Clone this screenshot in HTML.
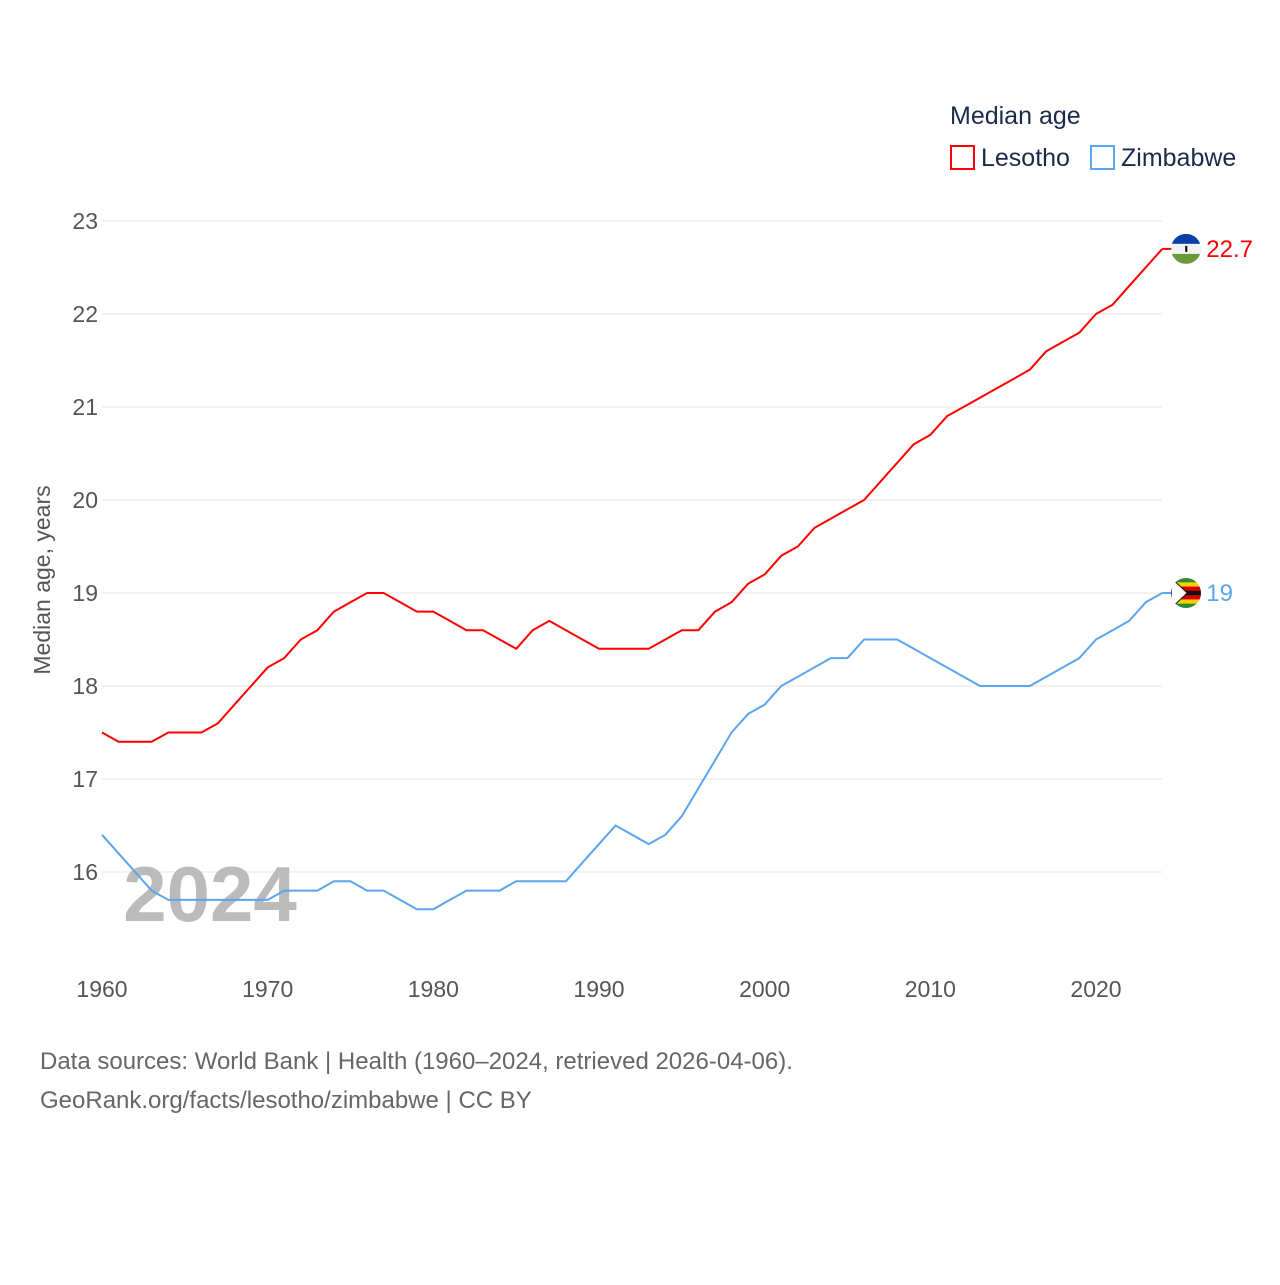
<!DOCTYPE html>
<html><head><meta charset="utf-8"><style>
body{margin:0;background:#fff;}
svg text{font-family:"Liberation Sans",sans-serif;}
</style></head><body>
<svg width="1280" height="1280" viewBox="0 0 1280 1280" xmlns="http://www.w3.org/2000/svg" id="chart">
<defs>
<clipPath id="clipL"><circle cx="1186" cy="248.1" r="15"/></clipPath>
<clipPath id="clipZ"><circle cx="1186" cy="592" r="15"/></clipPath>
</defs>
<g id="grid"></g>
<g id="yticks"></g>
<g id="xticks"></g>
<text x="210" y="921" font-size="78" font-weight="bold" fill="#bbb" text-anchor="middle">2024</text>
<g id="series"></g>
<text transform="translate(50,580) rotate(-90)" font-size="23" fill="#555" text-anchor="middle">Median age, years</text>
<text x="950" y="124" font-size="25" fill="#1a2b4a">Median age</text>
<g><rect x="951" y="146" width="23" height="23" fill="none" stroke="#f00" stroke-width="2"/><text x="981" y="166" font-size="25" fill="#1a2b4a">Lesotho</text></g>
<g><rect x="1091" y="146" width="23" height="23" fill="none" stroke="#5aa5ee" stroke-width="2"/><text x="1121" y="166" font-size="25" fill="#1a2b4a">Zimbabwe</text></g>
<text x="40" y="1069" font-size="24" fill="#666">Data sources: World Bank | Health (1960–2024, retrieved 2026-04-06).</text>
<text x="40" y="1108" font-size="24" fill="#666">GeoRank.org/facts/lesotho/zimbabwe | CC BY</text>
</svg>
<script>
const years=[];for(let y=1960;y<=2024;y++)years.push(y);
const lesotho=[17.5,17.4,17.4,17.4,17.5,17.5,17.5,17.6,17.8,18.0,18.2,18.3,18.5,18.6,18.8,18.9,19.0,19.0,18.9,18.8,18.8,18.7,18.6,18.6,18.5,18.4,18.6,18.7,18.6,18.5,18.4,18.4,18.4,18.4,18.5,18.6,18.6,18.8,18.9,19.1,19.2,19.4,19.5,19.7,19.8,19.9,20.0,20.2,20.4,20.6,20.7,20.9,21.0,21.1,21.2,21.3,21.4,21.6,21.7,21.8,22.0,22.1,22.3,22.5,22.7];
const zimbabwe=[16.4,16.2,16.0,15.8,15.7,15.7,15.7,15.7,15.7,15.7,15.7,15.8,15.8,15.8,15.9,15.9,15.8,15.8,15.7,15.6,15.6,15.7,15.8,15.8,15.8,15.9,15.9,15.9,15.9,16.1,16.3,16.5,16.4,16.3,16.4,16.6,16.9,17.2,17.5,17.7,17.8,18.0,18.1,18.2,18.3,18.3,18.5,18.5,18.5,18.4,18.3,18.2,18.1,18.0,18.0,18.0,18.0,18.1,18.2,18.3,18.5,18.6,18.7,18.9,19.0];
const yTicks=[16,17,18,19,20,21,22,23];
const xTicks=[1960,1970,1980,1990,2000,2010,2020];
const NS="http://www.w3.org/2000/svg";
const X=v=>102+(v-1960)*(994/60);
const Y=v=>872-(v-16)*93;
function mk(tag,attrs,parent,txt){const e=document.createElementNS(NS,tag);for(const k in attrs)e.setAttribute(k,attrs[k]);if(txt!==undefined)e.textContent=txt;parent.appendChild(e);return e;}
const grid=document.getElementById('grid'),yt=document.getElementById('yticks'),xt=document.getElementById('xticks'),ser=document.getElementById('series');
yTicks.forEach(t=>{
 const l=mk('line',{x1:102,x2:1162,y1:Y(t),y2:Y(t),stroke:'#e6e6e6','stroke-width':1},grid);
 
 
 const tx=mk('text',{x:98,y:Y(t)+8,'font-size':23,fill:'#555','text-anchor':'end'},yt,String(t));
 
 
});
xTicks.forEach(t=>{
 const tx=mk('text',{x:X(t),y:997,'font-size':23,fill:'#555','text-anchor':'middle'},xt,String(t));
 
 
});
function flag(name,cx,cy,parent){
 const g=mk('g',{'clip-path':name==='lesotho'?'url(#clipL)':'url(#clipZ)'},parent);
 
 
 document.getElementById(name==='lesotho'?'clipL':'clipZ').firstElementChild.setAttribute('cy',cy);
 if(name==='lesotho'){
  mk('rect',{x:cx-15,y:cy-15,width:30,height:10,fill:'#0a3fa8'},g);
  mk('rect',{x:cx-15,y:cy-5,width:30,height:10,fill:'#f2f2f2'},g);
  mk('rect',{x:cx-15,y:cy+5,width:30,height:10,fill:'#6a9a3a'},g);
  mk('rect',{x:cx-1,y:cy-3,width:2,height:6,fill:'#000'},g);
 }else{
  const cols=['#2a8a3a','#f4d000','#d40000','#111','#d40000','#f4d000','#2a8a3a'];
  cols.forEach((c,i)=>mk('rect',{x:cx-15,y:cy-15+i*30/7,width:30,height:30/7+0.5,fill:c},g));
  mk('polygon',{points:(cx-15)+','+(cy-15)+' '+(cx+1)+','+cy+' '+(cx-15)+','+(cy+15),fill:'#fff',stroke:'#111','stroke-width':1},g);
 }
}
function draw(vals,color,name){
 const d=vals.map((v,i)=>(i?'L':'M')+X(years[i]).toFixed(1)+','+Y(v).toFixed(1)).join('');
 const p=mk('path',{d:d,fill:'none',stroke:color,'stroke-width':2,'stroke-linejoin':'round'},ser);
 
 
 const last=vals[vals.length-1],ly=Y(last),lx=X(years[years.length-1]);
 const c=mk('line',{x1:lx,x2:lx+10,y1:ly,y2:ly,stroke:color,'stroke-width':2},ser);
 
 
 flag(name,lx+24,ly,ser);
 const t=mk('text',{x:lx+44,y:ly+8,'font-size':24,fill:color},ser,String(last));
 
 
}
draw(lesotho,'#ff0000','lesotho');
draw(zimbabwe,'#5aa5ee','zimbabwe');
</script>
</body></html>
